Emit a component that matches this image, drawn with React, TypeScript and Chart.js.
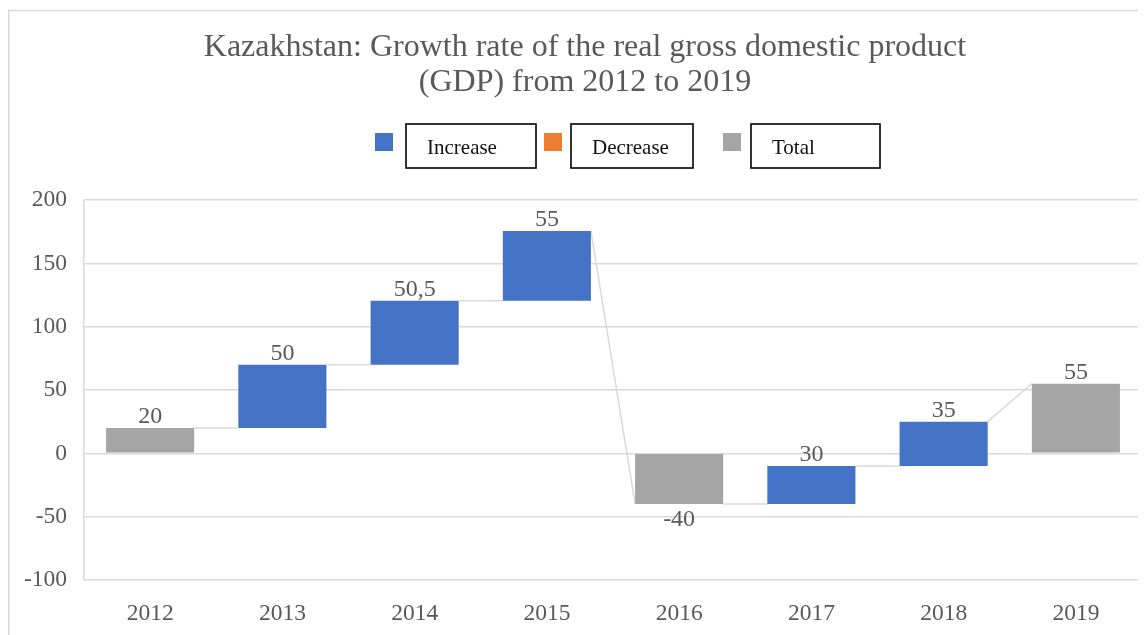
import React, { useEffect, useRef } from 'react';
import { Chart, registerables } from 'chart.js';

Chart.register(...registerables);

const categories = ['2012', '2013', '2014', '2015', '2016', '2017', '2018', '2019'];
const barStart = [0, 20, 70, 120.5, 0, -40, -10, 0];
const barEnd = [20, 70, 120.5, 175.5, -40, -10, 25, 55];
const valueLabels = ['20', '50', '50,5', '55', '-40', '30', '35', '55'];
const barTypes = ['Total', 'Increase', 'Increase', 'Increase', 'Total', 'Increase', 'Increase', 'Total'];
const connectorFrom = [20, 70, 120.5, 175.5, -40, -10, 25];
const connectorTo = [20, 70, 120.5, -40, -40, -10, 55];
const legendLabels = ['Increase', 'Decrease', 'Total'];
const titleLines = ['Kazakhstan: Growth rate of the real gross domestic product', '(GDP) from 2012 to 2019'];
const yMin = -100;
const yMax = 200;
const yStep = 50;

const typeColors: Record<string, string> = {
  Increase: '#4472C4',
  Decrease: '#ED7D31',
  Total: '#A5A5A5',
};

const SERIF = "'Liberation Serif', 'Times New Roman', serif";
const TEXT = '#595959';
const GRID = '#d9d9d9';
const W = 1154;
const H = 627;

const waterfallPlugin = {
  id: 'waterfallExtras',
  beforeDraw(chart: any) {
    const ctx = chart.ctx;
    ctx.save();
    ctx.strokeStyle = GRID;
    ctx.lineWidth = 1.5;
    ctx.strokeRect(0.75, 2.5, W + 20, H + 20);
    ctx.restore();
  },
  beforeDatasetsDraw(chart: any) {
    const ctx = chart.ctx;
    const meta = chart.getDatasetMeta(0);
    const y = chart.scales.y;
    ctx.save();
    ctx.strokeStyle = GRID;
    ctx.lineWidth = 1.5;
    for (let i = 0; i < connectorFrom.length; i++) {
      const a = meta.data[i];
      const b = meta.data[i + 1];
      if (!a || !b) continue;
      const x1 = a.x + a.width / 2;
      const x2 = b.x - b.width / 2;
      ctx.beginPath();
      ctx.moveTo(x1, y.getPixelForValue(connectorFrom[i]));
      ctx.lineTo(x2, y.getPixelForValue(connectorTo[i]));
      ctx.stroke();
    }
    ctx.restore();
  },
  afterDatasetsDraw(chart: any) {
    const ctx = chart.ctx;
    const meta = chart.getDatasetMeta(0);
    const y = chart.scales.y;
    ctx.save();
    ctx.fillStyle = TEXT;
    ctx.font = `24px ${SERIF}`;
    ctx.textAlign = 'center';
    meta.data.forEach((el: any, i: number) => {
      const s = barStart[i];
      const e = barEnd[i];
      if (e >= s) {
        ctx.textBaseline = 'alphabetic';
        ctx.fillText(valueLabels[i], el.x, y.getPixelForValue(e) - 5);
      } else {
        ctx.textBaseline = 'top';
        ctx.fillText(valueLabels[i], el.x, y.getPixelForValue(e) + 4);
      }
    });
    ctx.restore();
  },
  afterDraw(chart: any) {
    const ctx = chart.ctx;
    const cx = chart.width / 2;
    ctx.save();
    // title
    ctx.fillStyle = TEXT;
    ctx.font = `32px ${SERIF}`;
    ctx.textAlign = 'center';
    ctx.textBaseline = 'middle';
    ctx.fillText(titleLines[0], cx, 40);
    ctx.fillText(titleLines[1], cx, 75);

    // legend
    const squares = [cx - 210, cx - 41, cx + 138];
    const boxes = [
      [cx - 179, 130],
      [cx - 14, 122],
      [cx + 166, 129],
    ];
    const colors = [typeColors.Increase, typeColors.Decrease, typeColors.Total];
    for (let i = 0; i < legendLabels.length; i++) {
      ctx.fillStyle = colors[i];
      ctx.fillRect(squares[i], 125, 18, 18);
      const [bx, bw] = boxes[i];
      ctx.fillStyle = '#ffffff';
      ctx.fillRect(bx, 116, bw, 44);
      ctx.strokeStyle = '#000000';
      ctx.lineWidth = 1.6;
      ctx.strokeRect(bx, 116, bw, 44);
      ctx.fillStyle = '#111111';
      ctx.font = `21px ${SERIF}`;
      ctx.textAlign = 'left';
      ctx.textBaseline = 'middle';
      ctx.fillText(legendLabels[i], bx + 21, 140);
    }
    ctx.restore();
  },
};

export default function App() {
  const ref = useRef<HTMLCanvasElement | null>(null);

  useEffect(() => {
    document.body.style.overflow = 'hidden';
    document.documentElement.style.overflow = 'hidden';
    if (!ref.current) return;
    const chart = new Chart(ref.current, {
      type: 'bar',
      data: {
        labels: categories,
        datasets: [
          {
            label: 'GDP growth',
            data: barStart.map((s, i) => [s, barEnd[i]]) as any,
            backgroundColor: barTypes.map((t) => typeColors[t]),
            borderWidth: 0,
            barPercentage: 0.666,
            categoryPercentage: 1,
          },
        ],
      },
      options: {
        responsive: false,
        animation: false,
        layout: { padding: { top: 192, left: 0, right: 20, bottom: 0 } },
        plugins: {
          legend: { display: false },
          title: { display: false },
          tooltip: { enabled: false },
        },
        scales: {
          x: {
            grid: { display: false, drawTicks: false },
            border: { display: false },
            ticks: {
              color: TEXT,
              font: { family: SERIF, size: 23.5 },
              padding: 20,
              maxRotation: 0,
            },
            afterFit: (scale: any) => {
              scale.height = 55;
            },
          },
          y: {
            min: yMin,
            max: yMax,
            grid: { color: GRID, lineWidth: 1.5, drawTicks: false },
            border: { display: true, color: GRID, width: 1.5 },
            ticks: {
              stepSize: yStep,
              color: TEXT,
              font: { family: SERIF, size: 23.5 },
              padding: 17,
              callback: (v: any) => String(v),
            },
            afterFit: (scale: any) => {
              scale.width = 76;
            },
          },
        },
      },
      plugins: [waterfallPlugin],
    });
    return () => chart.destroy();
  }, []);

  return (
    <div style={{ width: 1138, height: 627, overflow: 'hidden' }}>
      <div style={{ width: W, height: H, position: 'relative' }}>
        <canvas ref={ref} width={W} height={H} style={{ width: W, height: H, display: 'block' }} />
      </div>
    </div>
  );
}
